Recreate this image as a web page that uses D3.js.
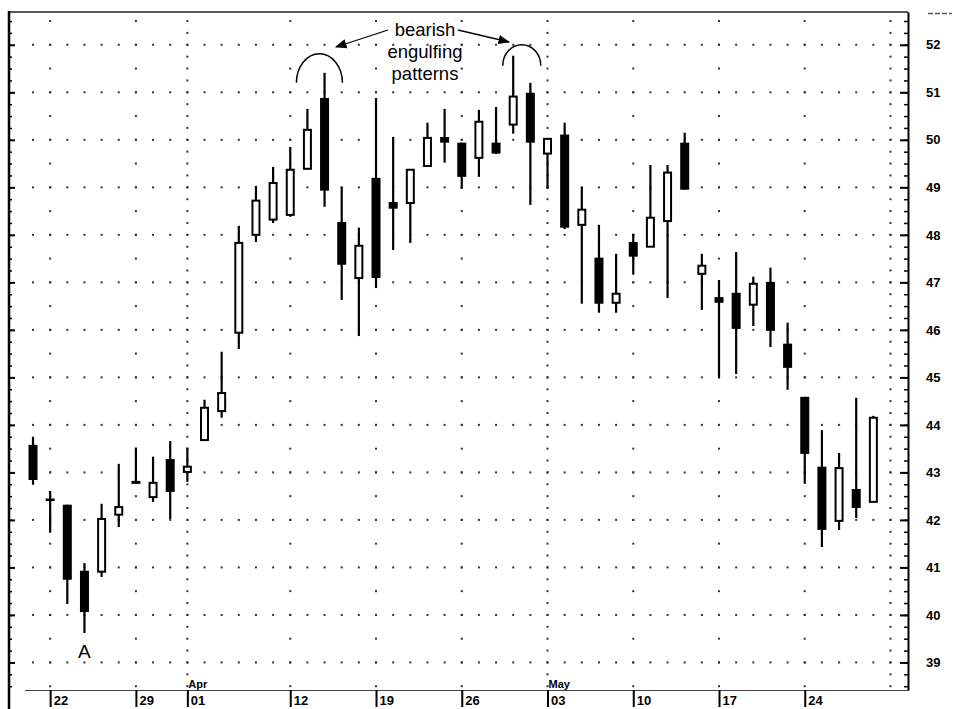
<!DOCTYPE html>
<html>
<head>
<meta charset="utf-8">
<script src="https://cdn.jsdelivr.net/npm/d3@7"></script>
<style>
  body { margin: 0; background: #fff; }
  svg { display: block; font-family: "Liberation Sans", Arial, sans-serif; }
</style>
</head>
<body>
<script>
// trading days, Mar 19 .. May 28 (Good Friday Apr 9 and May 31 skipped)
const days = ["03-19","03-22","03-23","03-24","03-25","03-26","03-29","03-30","03-31","04-01",
  "04-02","04-05","04-06","04-07","04-08","04-12","04-13","04-14","04-15","04-16",
  "04-19","04-20","04-21","04-22","04-23","04-26","04-27","04-28","04-29","04-30",
  "05-03","05-04","05-05","05-06","05-07","05-10","05-11","05-12","05-13","05-14",
  "05-17","05-18","05-19","05-20","05-21","05-24","05-25","05-26","05-27","05-28"];

const open  = [43.58,42.45,42.32,40.93,40.91,42.11,42.78,42.48,43.28,43.01,
  43.68,44.29,45.94,48.00,48.32,48.42,49.39,50.88,48.27,47.09,
  49.20,48.69,48.67,49.45,50.06,49.94,49.62,49.94,50.32,50.99,
  49.71,50.11,48.21,47.52,46.57,47.85,47.75,48.29,49.94,47.18,
  46.69,46.78,46.53,47.01,45.71,44.59,43.12,41.98,42.65,42.38];
const high  = [43.75,42.61,42.32,41.09,42.34,43.18,43.52,43.33,43.66,43.52,
  44.53,45.54,48.19,49.03,49.43,49.85,50.65,51.41,49.01,48.15,
  50.88,50.06,49.37,50.36,50.65,49.94,50.63,50.69,51.77,51.20,
  50.02,50.36,49.01,48.21,47.60,48.02,49.47,49.47,50.15,47.60,
  47.05,47.64,47.12,47.31,46.15,44.59,43.89,43.41,44.57,44.19];
const low   = [42.74,41.73,40.23,39.62,40.80,41.85,42.78,42.38,42.02,42.80,
  43.68,44.15,45.60,47.85,48.25,48.38,49.39,48.59,46.63,45.87,
  46.88,47.68,47.83,49.45,49.52,48.97,49.22,49.70,50.13,48.63,
  48.97,48.12,46.55,46.36,46.36,47.16,47.75,46.67,48.95,46.42,
  44.99,45.07,46.08,45.64,44.74,42.76,41.43,41.79,42.04,42.38];
const close = [42.84,42.42,40.74,40.06,42.02,42.27,42.80,42.78,42.59,43.12,
  44.36,44.67,47.83,48.72,49.09,49.37,50.21,48.93,47.37,47.77,
  47.09,48.55,49.37,50.04,49.94,49.22,50.38,49.71,50.91,49.94,
  50.02,48.15,48.53,46.55,46.76,47.54,48.36,49.31,48.95,47.35,
  46.57,46.02,46.97,45.98,45.20,43.39,41.79,43.09,42.25,44.15];

// date axis: day index of each labelled tick
const tickIdx    = [1, 6, 9, 15, 20, 25, 30, 35, 40, 45];
const tickLabels = ["22","29","01","12","19","26","03","10","17","24"];
const monthIdx    = [9, 30];
const monthLabels = ["Apr","May"];
const weekCols  = [1, 6, 15, 20, 25, 35, 40, 45];
const monthCols = [9, 30, 50];   // 50 = Jun 01
const priceTicks = d3.range(39, 53);

const width = 954, height = 709;

const data = days.map((d, i) => ({i: i, day: d, o: open[i], h: high[i], l: low[i], c: close[i]}));

const svg = d3.select("body").append("svg")
    .attr("width", width).attr("height", height);

const x = d3.scaleLinear().domain([-1.4, 51.02]).range([9, 908]);
const y = d3.scaleLinear().domain([38.42, 52.69]).range([690, 12]);

// dotted grid
const grid = svg.append("g").attr("fill", "#333");
priceTicks.forEach(p => {
  d3.range(0, 51).forEach(i => {
    grid.append("rect").attr("x", x(i) - 1).attr("y", y(p) - 1).attr("width", 2).attr("height", 2);
  });
});
weekCols.forEach(i => {
  d3.range(38.5, 52.75, 0.5).forEach(p => {
    grid.append("rect").attr("x", x(i) - 1).attr("y", y(p) - 1).attr("width", 2).attr("height", 2);
  });
});
monthCols.forEach(i => {
  d3.range(38.5, 52.75, 0.25).forEach(p => {
    grid.append("rect").attr("x", x(i) - 1).attr("y", y(p) - 1).attr("width", 2).attr("height", 2);
  });
});

// frame
svg.append("line").attr("x1", 9).attr("x2", 908).attr("y1", 12).attr("y2", 12)
    .attr("stroke", "#222").attr("stroke-width", 1.5);
svg.append("line").attr("x1", 25).attr("x2", 908).attr("y1", 690.5).attr("y2", 690.5)
    .attr("stroke", "#444").attr("stroke-width", 1);
svg.append("line").attr("x1", 9).attr("x2", 9).attr("y1", 11).attr("y2", 709)
    .attr("stroke", "#000").attr("stroke-width", 2.5);
svg.append("line").attr("x1", 928).attr("x2", 952).attr("y1", 13.5).attr("y2", 13.5)
    .attr("stroke", "#555").attr("stroke-width", 1.5).attr("stroke-dasharray", "5,2");

// right price axis
const yMinor = svg.append("g").attr("transform", "translate(908,0)")
    .call(d3.axisRight(y).tickValues(d3.range(38.5, 52.75, 0.25)).tickSize(-4).tickSizeOuter(0).tickFormat(""));
const yAxis = svg.append("g").attr("transform", "translate(908,0)")
    .call(d3.axisRight(y).tickValues(priceTicks).tickSize(-8).tickSizeOuter(0).tickPadding(18).tickFormat(d3.format("d")));
yMinor.select(".domain").attr("stroke-width", 2);
yMinor.selectAll(".tick line").attr("stroke-width", 1.5);
yAxis.selectAll(".tick line").attr("stroke-width", 2);
yAxis.selectAll("text").attr("font-size", 13).attr("font-weight", "bold")
    .attr("font-family", "Liberation Sans, Arial, sans-serif").attr("fill", "#000");

// left axis ticks (no labels)
const lMinor = svg.append("g").attr("transform", "translate(9,0)")
    .call(d3.axisLeft(y).tickValues(d3.range(38.5, 52.75, 0.25)).tickSize(-3).tickSizeOuter(0).tickFormat(""));
lMinor.select(".domain").remove();
lMinor.selectAll(".tick line").attr("stroke-width", 1.5);
const lMajor = svg.append("g").attr("transform", "translate(9,0)")
    .call(d3.axisLeft(y).tickValues(priceTicks).tickSize(-6).tickSizeOuter(0).tickFormat(""));
lMajor.select(".domain").remove();
lMajor.selectAll(".tick line").attr("stroke-width", 2);

// date axis
const xAxis = svg.append("g").attr("transform", "translate(0,690)")
    .call(d3.axisBottom(x).tickValues(tickIdx).tickSize(17).tickFormat((d, k) => tickLabels[k]));
xAxis.select(".domain").remove();
xAxis.selectAll(".tick line").attr("stroke-width", 2);
xAxis.selectAll("text")
    .attr("x", 3).attr("y", 15).attr("dy", 0)
    .attr("text-anchor", "start")
    .attr("font-size", 13).attr("font-weight", "bold")
    .attr("font-family", "Liberation Sans, Arial, sans-serif").attr("fill", "#000");

svg.append("g").selectAll("text").data(monthIdx).join("text")
    .attr("x", d => x(d) + 1).attr("y", 688)
    .attr("font-size", 11).attr("font-weight", "bold")
    .text((d, k) => monthLabels[k]);

// candles
const candles = svg.append("g");
candles.selectAll("line").data(data).join("line")
    .attr("x1", d => x(d.i)).attr("x2", d => x(d.i))
    .attr("y1", d => y(d.h)).attr("y2", d => y(d.l))
    .attr("stroke", "#000").attr("stroke-width", 2.2);

candles.selectAll("rect.up").data(data.filter(d => d.c >= d.o)).join("rect")
    .attr("class", "up")
    .attr("x", d => x(d.i) - 3.5).attr("width", 7)
    .attr("y", d => y(d.c))
    .attr("height", d => Math.max(1, y(d.o) - y(d.c)))
    .attr("fill", "#fff").attr("stroke", "#000").attr("stroke-width", 2);

candles.selectAll("rect.down").data(data.filter(d => d.c < d.o)).join("rect")
    .attr("class", "down")
    .attr("x", d => x(d.i) - 4.5).attr("width", 9)
    .attr("y", d => y(d.o))
    .attr("height", d => Math.max(2.5, y(d.c) - y(d.o)))
    .attr("fill", "#000");

// annotations
svg.append("text").attr("x", x(3)).attr("y", y(low[3]) + 25)
    .attr("text-anchor", "middle").attr("font-size", 19).text("A");

const note = svg.append("text").attr("text-anchor", "middle").attr("font-size", 18.5);
["bearish", "engulfing", "patterns"].forEach((t, k) => {
  note.append("tspan").attr("x", 425).attr("y", 36 + k * 22).text(t);
});

svg.append("defs").append("marker")
    .attr("id", "ah").attr("viewBox", "0 0 10 10").attr("refX", 9).attr("refY", 5)
    .attr("markerWidth", 9).attr("markerHeight", 9).attr("orient", "auto")
  .append("path").attr("d", "M0,1L10,5L0,9z").attr("fill", "#000");

svg.append("line").attr("x1", 388).attr("y1", 30).attr("x2", 336).attr("y2", 47)
    .attr("stroke", "#000").attr("stroke-width", 1.3).attr("marker-end", "url(#ah)");
svg.append("line").attr("x1", 458).attr("y1", 30).attr("x2", 509).attr("y2", 42)
    .attr("stroke", "#000").attr("stroke-width", 1.3).attr("marker-end", "url(#ah)");

function arc(cx, cy, rx, ry) {
  return `M${cx - rx},${cy}A${rx},${ry} 0 0 1 ${cx + rx},${cy}`;
}
svg.append("path").attr("d", arc(x(16.7), y(51.2), 23, 29))
    .attr("fill", "none").attr("stroke", "#000").attr("stroke-width", 1.5);
svg.append("path").attr("d", arc(x(28.5), y(51.56), 19, 21))
    .attr("fill", "none").attr("stroke", "#000").attr("stroke-width", 1.5);
</script>
</body>
</html>
